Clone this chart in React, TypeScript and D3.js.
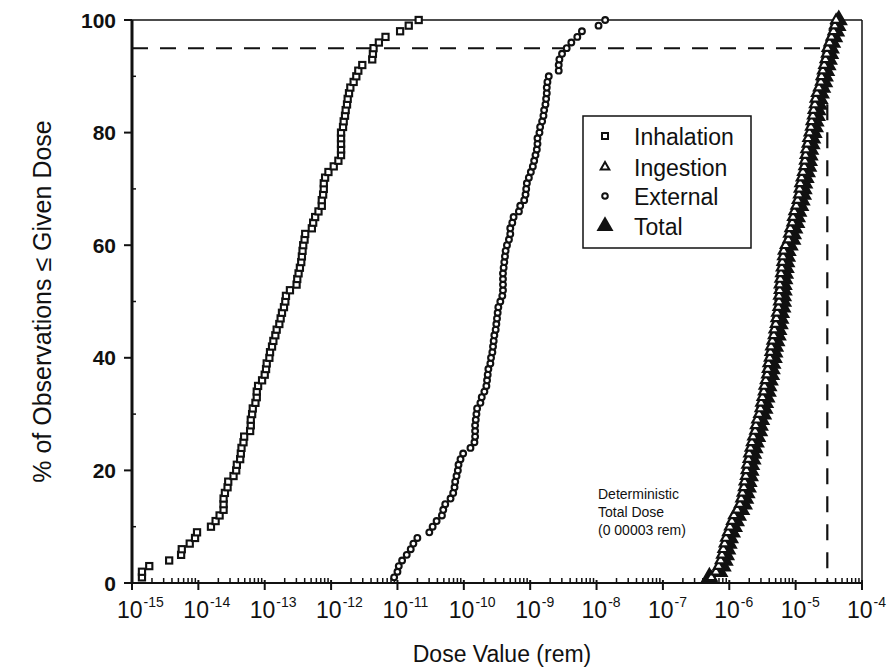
import React from 'react';
import * as d3 from 'd3';

// percentile of each observation (100 runs)
const percentiles = d3.range(1, 101);

// log10 of dose (rem), sorted ascending
const inhalationExp = [
  -14.85, -14.85, -14.74, -14.44, -14.26, -14.25, -14.13, -14.05, -14.02, -13.81,
  -13.74, -13.68, -13.62, -13.62, -13.62, -13.6, -13.56, -13.55, -13.47, -13.43,
  -13.42, -13.37, -13.36, -13.35, -13.32, -13.31, -13.22, -13.21, -13.21, -13.19,
  -13.18, -13.14, -13.12, -13.12, -13.1, -13.04, -13.0, -12.98, -12.97, -12.93,
  -12.92, -12.89, -12.87, -12.84, -12.82, -12.78, -12.76, -12.74, -12.71, -12.69,
  -12.68, -12.62, -12.52, -12.51, -12.49, -12.47, -12.45, -12.44, -12.43, -12.42,
  -12.4, -12.39, -12.29, -12.27, -12.24, -12.19, -12.14, -12.14, -12.12, -12.11,
  -12.11, -12.09, -12.04, -11.96, -11.89, -11.85, -11.85, -11.85, -11.85, -11.85,
  -11.82, -11.81, -11.79, -11.78, -11.76, -11.75, -11.73, -11.71, -11.66, -11.62,
  -11.59, -11.53, -11.38, -11.37, -11.36, -11.28, -11.18, -10.96, -10.83, -10.68,
];

const externalExp = [
  -11.05, -11.0, -10.98, -10.93, -10.86, -10.8, -10.76, -10.7, -10.52, -10.47,
  -10.41, -10.33, -10.31, -10.28, -10.2, -10.16, -10.14, -10.13, -10.11, -10.09,
  -10.08, -10.05, -10.01, -9.9, -9.84, -9.83, -9.83, -9.83, -9.82, -9.81,
  -9.8, -9.75, -9.73, -9.69, -9.66, -9.65, -9.64, -9.63, -9.6, -9.59,
  -9.57, -9.56, -9.55, -9.54, -9.52, -9.51, -9.5, -9.49, -9.48, -9.45,
  -9.42, -9.41, -9.41, -9.41, -9.41, -9.4, -9.39, -9.38, -9.37, -9.35,
  -9.32, -9.3, -9.3, -9.27, -9.25, -9.17, -9.15, -9.09, -9.07, -9.06,
  -9.05, -9.02, -8.99, -8.96, -8.94, -8.92, -8.9, -8.89, -8.89, -8.86,
  -8.85, -8.82, -8.8, -8.79, -8.77, -8.76, -8.75, -8.75, -8.74, -8.72,
  -8.57, -8.57, -8.56, -8.52, -8.45, -8.38, -8.29, -8.22, -7.97, -7.87,
];

const ingestionExp = [
  -6.27, -6.2, -6.16, -6.13, -6.11, -6.09, -6.07, -6.05, -6.02, -5.99,
  -5.96, -5.93, -5.88, -5.84, -5.82, -5.8, -5.78, -5.77, -5.75, -5.74,
  -5.73, -5.71, -5.7, -5.68, -5.66, -5.64, -5.61, -5.6, -5.58, -5.55,
  -5.53, -5.52, -5.5, -5.48, -5.47, -5.45, -5.43, -5.42, -5.41, -5.39,
  -5.38, -5.37, -5.35, -5.33, -5.32, -5.3, -5.29, -5.28, -5.26, -5.25,
  -5.25, -5.24, -5.24, -5.23, -5.22, -5.21, -5.2, -5.19, -5.18, -5.15,
  -5.11, -5.1, -5.08, -5.05, -5.04, -5.02, -4.99, -4.97, -4.95, -4.94,
  -4.93, -4.91, -4.89, -4.87, -4.86, -4.85, -4.84, -4.82, -4.81, -4.79,
  -4.77, -4.76, -4.74, -4.73, -4.71, -4.7, -4.68, -4.65, -4.62, -4.61,
  -4.59, -4.57, -4.55, -4.53, -4.52, -4.49, -4.46, -4.43, -4.41, -4.39,
];

const totalExp = [
  -6.3, -6.15, -6.1, -6.07, -6.05, -6.03, -6.01, -5.99, -5.96, -5.93,
  -5.9, -5.87, -5.82, -5.78, -5.76, -5.74, -5.72, -5.71, -5.69, -5.68,
  -5.67, -5.65, -5.64, -5.62, -5.6, -5.58, -5.55, -5.54, -5.52, -5.49,
  -5.47, -5.46, -5.44, -5.42, -5.41, -5.39, -5.37, -5.36, -5.35, -5.33,
  -5.32, -5.31, -5.29, -5.27, -5.26, -5.24, -5.23, -5.22, -5.2, -5.19,
  -5.19, -5.18, -5.18, -5.17, -5.16, -5.15, -5.14, -5.13, -5.12, -5.09,
  -5.05, -5.04, -5.02, -4.99, -4.98, -4.96, -4.93, -4.91, -4.89, -4.88,
  -4.87, -4.85, -4.83, -4.81, -4.8, -4.79, -4.78, -4.76, -4.75, -4.73,
  -4.71, -4.7, -4.68, -4.67, -4.65, -4.64, -4.62, -4.6, -4.57, -4.56,
  -4.54, -4.52, -4.5, -4.48, -4.47, -4.45, -4.42, -4.39, -4.37, -4.35,
];

const decades = d3.range(-15, -3); // 10^-15 .. 10^-4
const yTicks = [0, 20, 40, 60, 80, 100];
const yMinorTicks = [10, 30, 50, 70, 90];

const deterministicDose = 0.00003;
const deterministicPct = 95;

const legendItems = ['Inhalation', 'Ingestion', 'External', 'Total'];
const noteLines = ['Deterministic', 'Total Dose', '(0 00003 rem)'];

const FONT = '"Liberation Sans", Arial, Helvetica, sans-serif';

const margin = { left: 132, right: 30, top: 20, bottom: 86 };
const width = 892;
const height = 669;

export default function App() {
  const x = d3
    .scaleLog()
    .domain([1e-15, 1e-4])
    .range([margin.left, width - margin.right]);
  const y = d3
    .scaleLinear()
    .domain([0, 100])
    .range([height - margin.bottom, margin.top]);

  const [x0, x1] = x.range();
  const [y0, y1] = y.range();

  const toPts = (exps: number[]) =>
    exps.map((e, i) => ({ v: Math.pow(10, e), p: percentiles[i] }));

  const inh = toPts(inhalationExp);
  const ext = toPts(externalExp);
  const ing = toPts(ingestionExp);
  const tot = toPts(totalExp);

  const minor: number[] = [];
  decades.slice(0, -1).forEach((d) => {
    for (let k = 2; k <= 9; k++) minor.push(k * Math.pow(10, d));
  });

  const triOpen = d3.symbol(d3.symbolTriangle, 40)();
  const triFilled = d3.symbol(d3.symbolTriangle, 95)();
  const triLegendOpen = d3.symbol(d3.symbolTriangle, 32)();
  const triLegendBig = d3.symbol(d3.symbolTriangle, 125)();

  const xd = x(deterministicDose);
  const yd = y(deterministicPct);

  const legendX = 583;
  const legendY = 116;
  const legendRows = [145, 176, 205, 235];

  return (
    <svg
      width={width}
      height={height}
      style={{ position: 'absolute', left: 0, top: 0, background: '#fff' }}
      fontFamily={FONT}
    >
      <rect width={width} height={height} fill="#fff" />

      {/* frame */}
      <line x1={x0} x2={x1} y1={y1} y2={y1} stroke="#111" strokeWidth={1.5} />
      <line x1={x1} x2={x1} y1={y1} y2={y0} stroke="#111" strokeWidth={1.5} />
      <line x1={x0} x2={x1} y1={y0} y2={y0} stroke="#111" strokeWidth={2} />
      <line x1={x0} x2={x0} y1={y1} y2={y0} stroke="#111" strokeWidth={3} />

      {/* y ticks */}
      {yTicks.map((t) => (
        <g key={'y' + t}>
          <line x1={x0 - 8} x2={x0} y1={y(t)} y2={y(t)} stroke="#111" strokeWidth={2} />
          <text
            x={x0 - 16}
            y={y(t)}
            dy="0.36em"
            textAnchor="end"
            fontSize={21}
            fontWeight="bold"
            fill="#111"
          >
            {t}
          </text>
        </g>
      ))}
      {yMinorTicks.map((t) => (
        <line key={'ym' + t} x1={x0} x2={x0 + 4} y1={y(t)} y2={y(t)} stroke="#111" strokeWidth={1.5} />
      ))}

      {/* x ticks */}
      {minor.map((m, i) => (
        <line key={'xm' + i} x1={x(m)} x2={x(m)} y1={y0} y2={y0 - 5} stroke="#111" strokeWidth={1.5} />
      ))}
      {decades.map((d) => (
        <g key={'x' + d}>
          <line x1={x(Math.pow(10, d))} x2={x(Math.pow(10, d))} y1={y0 - 3} y2={y0 + 7} stroke="#111" strokeWidth={2} />
          <text x={x(Math.pow(10, d)) - 15} y={618} fontSize={23} fill="#111">
            10
            <tspan dx={1} dy={-11} fontSize={14}>
              {String(d)}
            </tspan>
          </text>
        </g>
      ))}

      {/* axis titles */}
      <text x={502} y={662} textAnchor="middle" fontSize={23} fill="#111">
        Dose Value (rem)
      </text>
      <text
        transform={`translate(42, ${(y0 + y1) / 2}) rotate(-90)`}
        textAnchor="middle"
        dy="0.36em"
        fontSize={25}
        fill="#111"
      >
        % of Observations ≤ Given Dose
      </text>

      {/* deterministic reference lines */}
      <line x1={x0} x2={xd} y1={yd} y2={yd} stroke="#111" strokeWidth={2} strokeDasharray="16,12" />
      <line x1={xd} x2={xd} y1={yd} y2={y0} stroke="#111" strokeWidth={2.2} strokeDasharray="16,12" />

      {/* inhalation squares */}
      {inh.map((d, i) => (
        <rect
          key={'inh' + i}
          x={x(d.v) - 3.1}
          y={y(d.p) - 3.1}
          width={6.2}
          height={6.2}
          fill="#fff"
          stroke="#111"
          strokeWidth={2.1}
        />
      ))}

      {/* external circles */}
      {ext.map((d, i) => (
        <circle key={'ext' + i} cx={x(d.v)} cy={y(d.p)} r={2.9} fill="#fff" stroke="#111" strokeWidth={2.1} />
      ))}

      {/* total filled triangles */}
      {tot.map((d, i) => (
        <path key={'tot' + i} d={triFilled as string} transform={`translate(${x(d.v)},${y(d.p)})`} fill="#111" stroke="#111" strokeWidth={2} />
      ))}

      {/* ingestion open triangles */}
      {ing.map((d, i) => (
        <path key={'ing' + i} d={triOpen as string} transform={`translate(${x(d.v)},${y(d.p)})`} fill="#fff" stroke="#111" strokeWidth={2.2} />
      ))}

      {/* legend */}
      <rect x={legendX} y={legendY} width={168} height={132} fill="#fff" stroke="#111" strokeWidth={1.5} />
      {legendItems.map((label, i) => {
        const cy = legendRows[i] - 9;
        const cx = 605;
        let sym: React.ReactNode = null;
        if (i === 0)
          sym = <rect x={cx - 3} y={cy - 3} width={6} height={6} fill="#fff" stroke="#111" strokeWidth={2} />;
        if (i === 1)
          sym = <path d={triLegendOpen as string} transform={`translate(${cx},${cy})`} fill="#fff" stroke="#111" strokeWidth={2} />;
        if (i === 2) sym = <circle cx={cx} cy={cy} r={2.8} fill="#fff" stroke="#111" strokeWidth={2} />;
        if (i === 3)
          sym = <path d={triLegendBig as string} transform={`translate(${cx},${cy})`} fill="#111" />;
        return (
          <g key={label}>
            {sym}
            <text x={634} y={legendRows[i]} fontSize={23} fill="#111">
              {label}
            </text>
          </g>
        );
      })}

      {/* annotation */}
      {noteLines.map((t, i) => (
        <text key={t} x={598} y={499 + i * 18} fontSize={14} fill="#111">
          {t}
        </text>
      ))}
    </svg>
  );
}
